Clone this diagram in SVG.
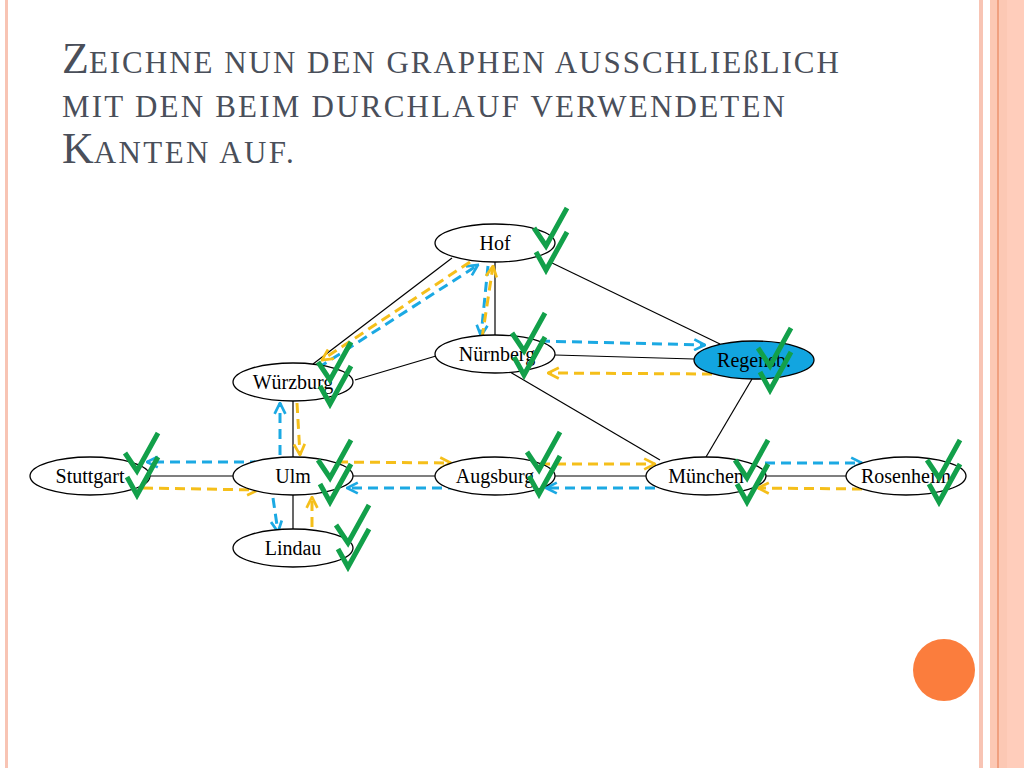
<svg xmlns="http://www.w3.org/2000/svg" width="1024" height="768" viewBox="0 0 1024 768">
<defs>
<style>
.t{font-family:"Liberation Serif","DejaVu Serif",serif;fill:#4a4f5a;font-size:31px}
.t .u{font-size:44px}
.n ellipse{fill:#fff;stroke:#000;stroke-width:1.3}
.n text{font-family:"Liberation Serif","DejaVu Serif",serif;font-size:20px;text-anchor:middle;fill:#000}
.e line{stroke:#000;stroke-width:1.2}
.b{stroke:#1ba9e3;stroke-width:3;stroke-dasharray:10 6;fill:none;marker-end:url(#ab)}
.y{stroke:#f5bf1a;stroke-width:3;stroke-dasharray:10 6;fill:none;marker-end:url(#ay)}
.c{stroke:#12a04a;stroke-width:5;fill:none;stroke-linejoin:miter}
</style>
<marker id="ab" viewBox="0 0 10 10" refX="9" refY="5" markerWidth="4.5" markerHeight="4.5" orient="auto" markerUnits="strokeWidth"><path d="M1,1 L9,5 L1,9" fill="none" stroke="#1ba9e3" stroke-width="2"/></marker>
<marker id="ay" viewBox="0 0 10 10" refX="9" refY="5" markerWidth="4.5" markerHeight="4.5" orient="auto" markerUnits="strokeWidth"><path d="M1,1 L9,5 L1,9" fill="none" stroke="#f5bf1a" stroke-width="2"/></marker>
<path id="chk" d="M0,20 L12,38 L33,0 M2,44 L12,62 L33,24"/>
</defs>
<rect width="1024" height="768" fill="#fff"/>
<rect x="5" y="0" width="3" height="768" fill="#f8c4b4"/>
<rect x="979" y="0" width="4" height="768" fill="#f8c4b4"/>
<rect x="990" y="0" width="34" height="768" fill="#fcc8b4"/>
<rect x="997" y="0" width="2" height="768" fill="#f0a080"/>
<rect x="1007" y="0" width="17" height="768" fill="#ffcdbb"/>
<text class="t" x="62" y="73"><tspan class="u">Z</tspan><tspan textLength="750" lengthAdjust="spacing">EICHNE NUN DEN GRAPHEN AUSSCHLIEßLICH</tspan></text>
<text class="t" x="62" y="117" textLength="723" lengthAdjust="spacing">MIT DEN BEIM DURCHLAUF VERWENDETEN</text>
<text class="t" x="62" y="163"><tspan class="u">K</tspan><tspan textLength="200" lengthAdjust="spacing">ANTEN AUF.</tspan></text>
<g id="edges" class="e">
<line x1="452" y1="258" x2="313" y2="364"/>
<line x1="495" y1="262" x2="495" y2="335"/>
<line x1="550" y1="262" x2="720" y2="344"/>
<line x1="355" y1="380" x2="436" y2="356"/>
<line x1="555" y1="355" x2="694" y2="359"/>
<line x1="510" y1="372" x2="660" y2="460"/>
<line x1="752" y1="379" x2="706" y2="457"/>
<line x1="293" y1="401" x2="293" y2="457"/>
<line x1="150" y1="476" x2="233" y2="476"/>
<line x1="353" y1="476" x2="435" y2="476"/>
<line x1="555" y1="476" x2="646" y2="476"/>
<line x1="766" y1="476" x2="846" y2="476"/>
<line x1="293" y1="495" x2="293" y2="529"/>
</g>
<g id="traversal">
<path class="b" d="M318,368 L478,265"/>
<path class="y" d="M470,262 L322,360"/>
<path class="b" d="M488,266 L481,336"/>
<path class="y" d="M482,338 L493,266"/>
<path class="b" d="M540,341 L705,345"/>
<path class="y" d="M712,374 L548,373"/>
<path class="b" d="M280,455 L280,403"/>
<path class="y" d="M297,403 L300,455"/>
<path class="b" d="M260,462 L147,462"/>
<path class="y" d="M143,488 L258,490"/>
<path class="b" d="M273,498 L278,532"/>
<path class="y" d="M312,527 L312,497"/>
<path class="y" d="M338,462 L451,463"/>
<path class="b" d="M458,488 L347,488"/>
<path class="y" d="M540,464 L655,464"/>
<path class="b" d="M655,488 L546,488"/>
<path class="b" d="M765,463 L862,463"/>
<path class="y" d="M862,489 L758,488"/>
</g>
<g id="Hof" class="n"><ellipse cx="495" cy="243" rx="60" ry="19"/><text x="495" y="250">Hof</text></g>
<g id="Nuernberg" class="n"><ellipse cx="495" cy="354" rx="60" ry="19"/><text x="497" y="361">Nürnberg</text></g>
<g id="Regensb" class="n"><ellipse cx="754" cy="360" rx="60" ry="19" style="fill:#12a5e0"/><text x="754" y="367">Regensb.</text></g>
<g id="Wuerzburg" class="n"><ellipse cx="293" cy="382" rx="60" ry="19"/><text x="293" y="389">Würzburg</text></g>
<g id="Stuttgart" class="n"><ellipse cx="90" cy="476" rx="60" ry="19"/><text x="90" y="483">Stuttgart</text></g>
<g id="Ulm" class="n"><ellipse cx="293" cy="476" rx="60" ry="19"/><text x="293" y="483">Ulm</text></g>
<g id="Augsburg" class="n"><ellipse cx="495" cy="476" rx="60" ry="19"/><text x="495" y="483">Augsburg</text></g>
<g id="Muenchen" class="n"><ellipse cx="706" cy="476" rx="60" ry="19"/><text x="706" y="483">München</text></g>
<g id="Rosenheim" class="n"><ellipse cx="906" cy="476" rx="60" ry="19"/><text x="906" y="483">Rosenheim</text></g>
<g id="Lindau" class="n"><ellipse cx="293" cy="548" rx="60" ry="19"/><text x="293" y="555">Lindau</text></g>
<g id="checks" class="c">
<use href="#chk" x="534" y="208"/>
<use href="#chk" x="512" y="313"/>
<use href="#chk" x="758" y="328"/>
<use href="#chk" x="318" y="342"/>
<use href="#chk" x="125" y="433"/>
<use href="#chk" x="318" y="440"/>
<use href="#chk" x="336" y="505"/>
<use href="#chk" x="527" y="432"/>
<use href="#chk" x="735" y="440"/>
<use href="#chk" x="927" y="440"/>
</g>
<circle cx="944" cy="670" r="31" fill="#fb7d3d"/>
</svg>
